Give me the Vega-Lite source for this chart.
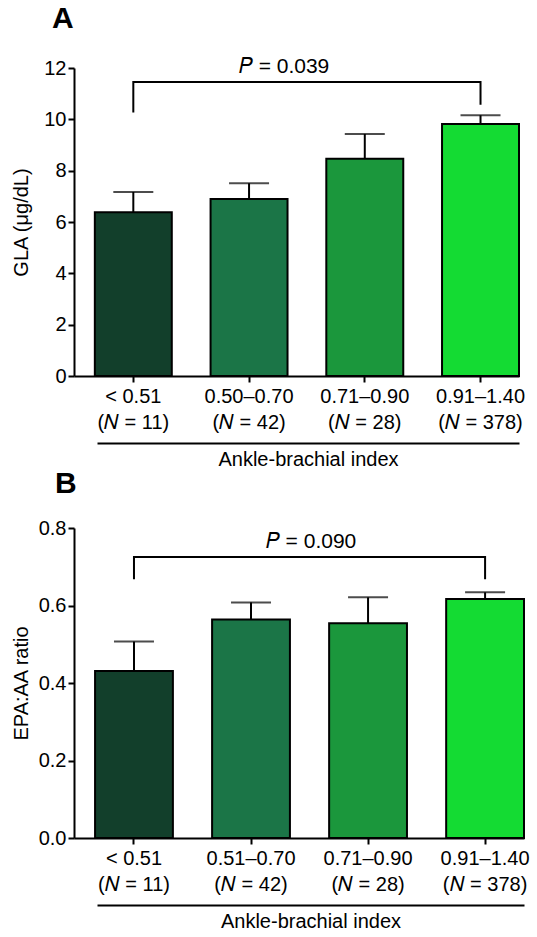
{
  "$schema": "https://vega.github.io/schema/vega-lite/v6.json",
  "background": "white",
  "padding": {"left": 11, "top": 4, "right": 5, "bottom": 0},
  "spacing": 0,
  "config": {
    "font": "Liberation Sans",
    "view": {"stroke": null},
    "axis": {
      "labelFont": "Liberation Sans",
      "titleFont": "Liberation Sans",
      "labelColor": "black",
      "titleColor": "black",
      "domainColor": "black",
      "tickColor": "black",
      "domainWidth": 2,
      "tickWidth": 2,
      "tickSize": 6,
      "labelFontSize": 20,
      "titleFontSize": 20,
      "titleFontWeight": "normal",
      "grid": false
    },
    "title": {"font": "Liberation Sans", "color": "black"}
  },
  "vconcat": [
    {
      "title": {"text": "A", "fontSize": 30, "fontWeight": "bold", "anchor": "start", "frame": "group", "dx": -22, "offset": 22},
      "width": 445,
      "height": 308,
      "resolve": {"scale": {"x": "independent"}},
      "layer": [
        {
          "data": {"values": [
            {"cat": "< 0.51|(𝑁 = 11)", "grp": 1, "mean": 6.38, "upper": 7.17},
            {"cat": "0.50–0.70|(𝑁 = 42)", "grp": 2, "mean": 6.9, "upper": 7.51},
            {"cat": "0.71–0.90|(𝑁 = 28)", "grp": 3, "mean": 8.46, "upper": 9.43},
            {"cat": "0.91–1.40|(𝑁 = 378)", "grp": 4, "mean": 9.82, "upper": 10.16}
          ]},
          "encoding": {
            "x": {
              "field": "cat", "type": "nominal", "title": null,
              "scale": {"domain": ["< 0.51|(𝑁 = 11)", "0.50–0.70|(𝑁 = 42)", "0.71–0.90|(𝑁 = 28)", "0.91–1.40|(𝑁 = 378)"], "paddingInner": 0.335, "paddingOuter": 0.09, "align": 1},
              "axis": {"labelExpr": "split(datum.label, '|')", "labelAngle": 0, "labelLineHeight": 26, "labelPadding": 4, "labelBaseline": "top"}
            }
          },
          "layer": [
            {
              "mark": {"type": "bar", "stroke": "black", "strokeWidth": 2},
              "encoding": {
                "y": {"field": "mean", "type": "quantitative", "title": "GLA (μg/dL)", "scale": {"domain": [0, 12], "nice": false},
                      "axis": {"values": [0, 2, 4, 6, 8, 10, 12], "titleX": -53, "titleBaseline": "middle", "labelPadding": 2}},
                "color": {"field": "grp", "type": "nominal", "legend": null,
                          "scale": {"domain": [1, 2, 3, 4], "range": ["#123f2b", "#1b7547", "#1b973c", "#14db33"]}}
              }
            },
            {
              "mark": {"type": "rule", "color": "black", "strokeWidth": 2},
              "encoding": {
                "y": {"field": "mean", "type": "quantitative", "title": "GLA (μg/dL)"},
                "y2": {"field": "upper"}
              }
            },
            {
              "mark": {"type": "tick", "color": "black", "thickness": 2, "size": 40, "orient": "horizontal"},
              "encoding": {
                "y": {"field": "upper", "type": "quantitative", "title": "GLA (μg/dL)"}
              }
            },
            {
              "data": {"values": [
                {"cat": "< 0.51|(𝑁 = 11)", "yv": 10.27, "o": 1},
                {"cat": "< 0.51|(𝑁 = 11)", "yv": 11.45, "o": 2},
                {"cat": "0.91–1.40|(𝑁 = 378)", "yv": 11.45, "o": 3},
                {"cat": "0.91–1.40|(𝑁 = 378)", "yv": 10.57, "o": 4}
              ]},
              "mark": {"type": "line", "color": "black", "strokeWidth": 2},
              "encoding": {
                "y": {"field": "yv", "type": "quantitative", "title": "GLA (μg/dL)"},
                "order": {"field": "o", "type": "quantitative"}
              }
            },
            {
              "data": {"values": [
                {"cat": "0.50–0.70|(𝑁 = 42)", "yv": 11.79, "label": "𝑃 = 0.039"}
              ]},
              "mark": {"type": "text", "fontSize": 21, "color": "black", "align": "center", "baseline": "alphabetic", "dx": 35},
              "encoding": {
                "y": {"field": "yv", "type": "quantitative", "title": "GLA (μg/dL)"},
                "text": {"field": "label"}
              }
            }
          ]
        },
        {
          "data": {"values": [
            {"cat": "< 0.51|(𝑁 = 11)", "mean": 6.38},
            {"cat": "0.50–0.70|(𝑁 = 42)", "mean": 6.9},
            {"cat": "0.71–0.90|(𝑁 = 28)", "mean": 8.46},
            {"cat": "0.91–1.40|(𝑁 = 378)", "mean": 9.82}
          ]},
          "mark": {"type": "bar", "opacity": 0},
          "encoding": {
            "x": {"field": "cat", "type": "nominal",
                  "scale": {"domain": ["< 0.51|(𝑁 = 11)", "0.50–0.70|(𝑁 = 42)", "0.71–0.90|(𝑁 = 28)", "0.91–1.40|(𝑁 = 378)"], "range": [23, 445]},
                  "axis": {"orient": "bottom", "offset": 67, "ticks": false, "labels": false, "title": "Ankle-brachial index", "titlePadding": 6}},
            "y": {"field": "mean", "type": "quantitative", "title": "GLA (μg/dL)"}
          }
        }
      ]
    },
    {
      "title": {"text": "B", "fontSize": 30, "fontWeight": "bold", "anchor": "start", "frame": "group", "dx": -19, "offset": 19},
      "width": 450,
      "height": 310,
      "resolve": {"scale": {"x": "independent"}},
      "layer": [
        {
          "data": {"values": [
            {"cat": "< 0.51|(𝑁 = 11)", "grp": 1, "mean": 0.431, "upper": 0.507},
            {"cat": "0.51–0.70|(𝑁 = 42)", "grp": 2, "mean": 0.564, "upper": 0.608},
            {"cat": "0.71–0.90|(𝑁 = 28)", "grp": 3, "mean": 0.554, "upper": 0.621},
            {"cat": "0.91–1.40|(𝑁 = 378)", "grp": 4, "mean": 0.617, "upper": 0.634}
          ]},
          "encoding": {
            "x": {
              "field": "cat", "type": "nominal", "title": null,
              "scale": {"domain": ["< 0.51|(𝑁 = 11)", "0.51–0.70|(𝑁 = 42)", "0.71–0.90|(𝑁 = 28)", "0.91–1.40|(𝑁 = 378)"], "paddingInner": 0.335, "paddingOuter": 0.09, "align": 1},
              "axis": {"labelExpr": "split(datum.label, '|')", "labelAngle": 0, "labelLineHeight": 26, "labelPadding": 4, "labelBaseline": "top"}
            }
          },
          "layer": [
            {
              "mark": {"type": "bar", "stroke": "black", "strokeWidth": 2},
              "encoding": {
                "y": {"field": "mean", "type": "quantitative", "title": "EPA:AA ratio", "scale": {"domain": [0, 0.8], "nice": false},
                      "axis": {"values": [0, 0.2, 0.4, 0.6, 0.8], "format": ".1f", "titleX": -53, "titleBaseline": "middle", "labelPadding": 2}},
                "color": {"field": "grp", "type": "nominal", "legend": null,
                          "scale": {"domain": [1, 2, 3, 4], "range": ["#123f2b", "#1b7547", "#1b973c", "#14db33"]}}
              }
            },
            {
              "mark": {"type": "rule", "color": "black", "strokeWidth": 2},
              "encoding": {
                "y": {"field": "mean", "type": "quantitative", "title": "EPA:AA ratio"},
                "y2": {"field": "upper"}
              }
            },
            {
              "mark": {"type": "tick", "color": "black", "thickness": 2, "size": 40, "orient": "horizontal"},
              "encoding": {
                "y": {"field": "upper", "type": "quantitative", "title": "EPA:AA ratio"}
              }
            },
            {
              "data": {"values": [
                {"cat": "< 0.51|(𝑁 = 11)", "yv": 0.668, "o": 1},
                {"cat": "< 0.51|(𝑁 = 11)", "yv": 0.725, "o": 2},
                {"cat": "0.91–1.40|(𝑁 = 378)", "yv": 0.725, "o": 3},
                {"cat": "0.91–1.40|(𝑁 = 378)", "yv": 0.668, "o": 4}
              ]},
              "mark": {"type": "line", "color": "black", "strokeWidth": 2},
              "encoding": {
                "y": {"field": "yv", "type": "quantitative", "title": "EPA:AA ratio"},
                "order": {"field": "o", "type": "quantitative"}
              }
            },
            {
              "data": {"values": [
                {"cat": "0.51–0.70|(𝑁 = 42)", "yv": 0.748, "label": "𝑃 = 0.090"}
              ]},
              "mark": {"type": "text", "fontSize": 21, "color": "black", "align": "center", "baseline": "alphabetic", "dx": 60},
              "encoding": {
                "y": {"field": "yv", "type": "quantitative", "title": "EPA:AA ratio"},
                "text": {"field": "label"}
              }
            }
          ]
        },
        {
          "data": {"values": [
            {"cat": "< 0.51|(𝑁 = 11)", "mean": 0.431},
            {"cat": "0.51–0.70|(𝑁 = 42)", "mean": 0.564},
            {"cat": "0.71–0.90|(𝑁 = 28)", "mean": 0.554},
            {"cat": "0.91–1.40|(𝑁 = 378)", "mean": 0.617}
          ]},
          "mark": {"type": "bar", "opacity": 0},
          "encoding": {
            "x": {"field": "cat", "type": "nominal",
                  "scale": {"domain": ["< 0.51|(𝑁 = 11)", "0.51–0.70|(𝑁 = 42)", "0.71–0.90|(𝑁 = 28)", "0.91–1.40|(𝑁 = 378)"], "range": [23, 450]},
                  "axis": {"orient": "bottom", "offset": 67, "ticks": false, "labels": false, "title": "Ankle-brachial index", "titlePadding": 6}},
            "y": {"field": "mean", "type": "quantitative", "title": "EPA:AA ratio"}
          }
        }
      ]
    }
  ]
}
